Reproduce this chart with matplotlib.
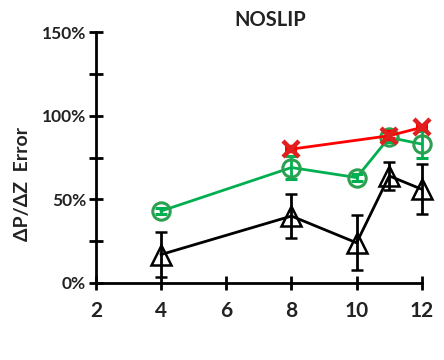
import matplotlib
matplotlib.use("Agg")
import matplotlib.pyplot as plt
from matplotlib.ticker import MultipleLocator, FuncFormatter

plt.rcParams['font.family'] = ['Lato', 'DejaVu Sans']
plt.rcParams['font.weight'] = 'bold'

# Error (%) versus x for three series
x_black = [4, 8, 10, 11, 12]
y_black = [17, 40, 24, 64, 56]
e_black = [13.5, 13, 16.5, 8.5, 15]

x_green = [4, 8, 10, 11, 12]
y_green = [43, 69, 63, 87, 83]
e_green = [2, 7, 2, 3, 8]

x_red = [8, 11, 12]
y_red = [80, 88, 93]
e_red = [1, 2, 1]

title = "NOSLIP"
ylabel = "ΔP/ΔZ  Error"

fig = plt.figure(figsize=(4.44, 3.6), dpi=100)
ax = fig.add_axes([0.216, 0.214, 0.734, 0.697])

ax.errorbar(x_black, y_black, yerr=e_black, color='black', lw=2, marker='^',
            ms=15, mfc='none', mec='black', mew=1.8, capsize=4.5, capthick=2,
            elinewidth=2, clip_on=False, zorder=3)
ax.errorbar(x_green, y_green, yerr=e_green, color='#00B050', lw=2, marker='o',
            ms=12.5, mfc='none', mec='#2CA050', mew=2.2, capsize=4.5, capthick=2,
            elinewidth=2, clip_on=False, zorder=4)
ax.errorbar(x_red, y_red, yerr=e_red, color='#FF0000', lw=2, marker='x',
            ms=12, mec='#E0201E', mew=3.2, capsize=4.5, capthick=2,
            elinewidth=2, clip_on=False, zorder=5)

ax.set_xlim(2, 12)
ax.set_ylim(0, 150)
ax.xaxis.set_major_locator(MultipleLocator(2))
ax.yaxis.set_major_locator(MultipleLocator(50))
ax.yaxis.set_minor_locator(MultipleLocator(25))
ax.yaxis.set_major_formatter(FuncFormatter(lambda v, p: f"{v:.0f}%"))

for s in ['top', 'right']:
    ax.spines[s].set_visible(False)
for s in ['left', 'bottom']:
    ax.spines[s].set_linewidth(2)

ax.tick_params(axis='both', which='both', direction='inout', width=2, length=10)
ax.tick_params(axis='y', which='major', labelsize=12.5, pad=2)
ax.tick_params(axis='x', which='major', labelsize=15, pad=8)
for lab in ax.get_xticklabels() + ax.get_yticklabels():
    lab.set_fontweight('bold')
    lab.set_color('#222222')

fig.text(0.608, 0.945, title, ha='center', va='center', fontsize=14.5,
         fontweight='bold', color='#222222')
fig.text(0.05, 0.49, ylabel, ha='center', va='center', rotation=90,
         fontsize=14, fontweight='bold', color='#222222')

fig.savefig("out.png", dpi=100)
